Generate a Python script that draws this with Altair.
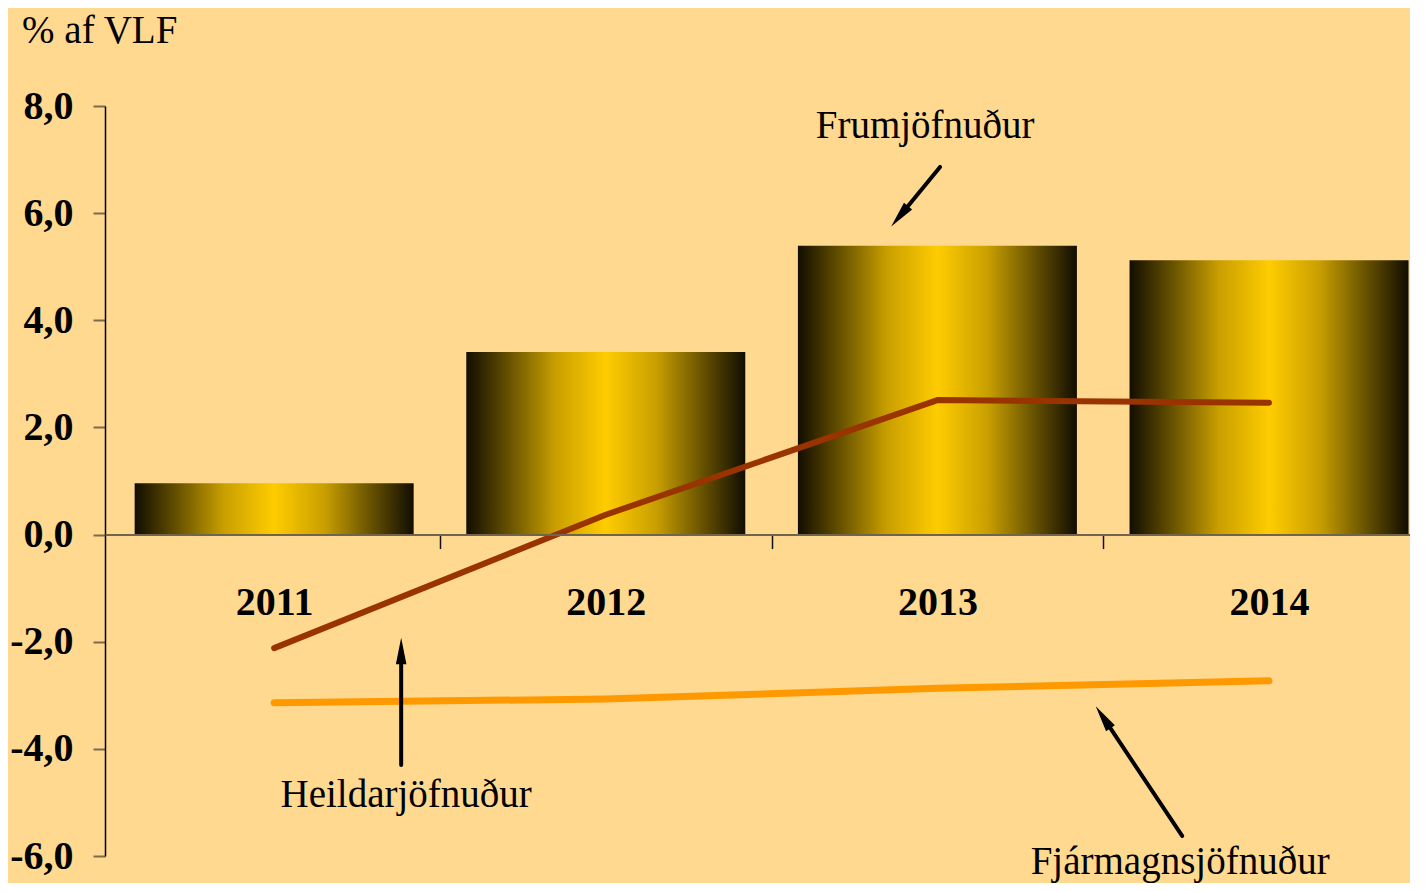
import math
import altair as alt
import pandas as pd

# ---- data ----
years = [2011, 2012, 2013, 2014]
frumjofnudur = [0.96, 3.41, 5.39, 5.12]          # bars
heildarjofnudur = [-2.12, 0.37, 2.51, 2.46]      # dark red line
fjarmagnsjofnudur = [-3.14, -3.07, -2.87, -2.73] # orange line

y_tick_values = [-6, -4, -2, 0, 2, 4, 6, 8]
x_axis_values = [2011, 2011.5, 2012, 2012.5, 2013, 2013.5, 2014]

unit_label = ["% af VLF"]
unit_x = [2010.24]
unit_y = [9.18]

ann_text = ["Frumjöfnuður", "Heildarjöfnuður", "Fjármagnsjöfnuður"]
ann_x = [2012.963, 2011.398, 2013.732]
ann_y = [7.40, -5.085, -6.336]
arrow_x1 = [2013.008, 2011.383, 2013.738]
arrow_y1 = [6.862, -4.30, -5.626]
arrow_x2 = [2012.867, 2011.383, 2013.483]
arrow_y2 = [5.798, -1.986, -3.256]

X_DOMAIN = [2010.505, 2014.41]
Y_DOMAIN = [-6, 8]
W, H = 1305, 750
FONT = "Liberation Serif"
BG = "#FFD990"
HEAD_LEN = 20
HEAD_SIZE = 700

px_x = W / (X_DOMAIN[1] - X_DOMAIN[0])
px_y = H / (Y_DOMAIN[1] - Y_DOMAIN[0])

bars_df = pd.DataFrame({"x": years, "y": frumjofnudur})
heild_df = pd.DataFrame({"x": years, "y": heildarjofnudur})
fjarm_df = pd.DataFrame({"x": years, "y": fjarmagnsjofnudur})

# arrow heads: centre set half a head-length behind the tip, rotated along the shaft
head_x, head_y, head_angle, shaft_x2, shaft_y2 = [], [], [], [], []
for x1, y1, x2, y2 in zip(arrow_x1, arrow_y1, arrow_x2, arrow_y2):
    dxp = (x2 - x1) * px_x
    dyp = -(y2 - y1) * px_y
    n = math.hypot(dxp, dyp)
    ux, uy = dxp / n, dyp / n
    back = HEAD_LEN / 2
    head_x.append(x2 - back * ux / px_x)
    head_y.append(y2 + back * uy / px_y)
    shaft_x2.append(x2 - (back + 2) * ux / px_x)
    shaft_y2.append(y2 + (back + 2) * uy / px_y)
    head_angle.append(math.degrees(math.atan2(ux, -uy)) % 360)

arrows_df = pd.DataFrame({
    "x": arrow_x1, "y": arrow_y1, "x2": shaft_x2, "y2": shaft_y2,
    "hx": head_x, "hy": head_y, "angle": head_angle,
})
ann_df = pd.DataFrame({"x": ann_x, "y": ann_y, "t": ann_text})
unit_df = pd.DataFrame({"x": unit_x, "y": unit_y, "t": unit_label})

xs = alt.Scale(domain=X_DOMAIN, nice=False, zero=False)
ys = alt.Scale(domain=Y_DOMAIN, nice=False, zero=False)

gradient = alt.Gradient(
    gradient="linear", x1=0, x2=1, y1=0, y2=0,
    stops=[
        alt.GradientStop(color="#120d00", offset=0),
        alt.GradientStop(color="#6b5500", offset=0.16),
        alt.GradientStop(color="#c99f00", offset=0.32),
        alt.GradientStop(color="#ffcc00", offset=0.5),
        alt.GradientStop(color="#c99f00", offset=0.68),
        alt.GradientStop(color="#6b5500", offset=0.84),
        alt.GradientStop(color="#120d00", offset=1),
    ],
)

x_axis = alt.Axis(
    values=x_axis_values,
    labelExpr="datum.value % 1 == 0 ? toString(datum.value) : ''",
    tickOpacity=alt.condition("datum.value % 1 == 0", alt.value(0), alt.value(1)),
    tickSize=14, tickColor="#111111", tickWidth=1.5,
    domainColor="#6e6450", domainWidth=2,
    labelFont=FONT, labelFontSize=40, labelFontWeight="bold", labelColor="black",
    labelBaseline="alphabetic", labelPadding=66,
    labelOverlap=False, labelBound=False, labelFlush=False,
    offset=-(H - 8 * px_y), title=None, grid=False, zindex=1,
)
y_axis = alt.Axis(
    values=y_tick_values,
    labelExpr="(datum.value < 0 ? '-' : '') + replace(format(abs(datum.value), '.1f'), '.', ',')",
    tickSize=12, tickColor="#7a6a4a", tickWidth=2,
    domainColor="black", domainWidth=1.5,
    labelFont=FONT, labelFontSize=40, labelFontWeight="bold", labelColor="black",
    labelPadding=20, labelOverlap=False, labelBound=False, labelFlush=False,
    title=None, grid=False,
)


def X(field):
    return alt.X(field, type="quantitative", scale=xs, axis=x_axis)


def Y(field):
    return alt.Y(field, type="quantitative", scale=ys, axis=y_axis)


bars = alt.Chart(bars_df).mark_bar(size=279, color=gradient).encode(
    x=X("x"), y=Y("y"),
)

line_heild = alt.Chart(heild_df).mark_line(
    color="#993300", strokeWidth=6, strokeCap="round", strokeJoin="round"
).encode(x=X("x"), y=Y("y"))

line_fjarm = alt.Chart(fjarm_df).mark_line(
    color="#FF9900", strokeWidth=7, strokeCap="round", strokeJoin="round"
).encode(x=X("x"), y=Y("y"))

shafts = alt.Chart(arrows_df).mark_rule(color="black", strokeWidth=4, strokeCap="round").encode(
    x=X("x"), y=Y("y"), x2="x2:Q", y2="y2:Q",
)

heads = alt.Chart(arrows_df).mark_point(
    shape="M0,-1L0.4,1L-0.4,1Z", filled=True, color="black",
    size=HEAD_SIZE, opacity=1, strokeWidth=0,
).encode(
    x=X("hx"), y=Y("hy"),
    angle=alt.Angle("angle:Q", scale=None),
)

ann = alt.Chart(ann_df).mark_text(
    font=FONT, fontSize=39, color="black", align="center", baseline="alphabetic"
).encode(x=X("x"), y=Y("y"), text="t:N")

unit = alt.Chart(unit_df).mark_text(
    font=FONT, fontSize=39, color="black", align="left", baseline="alphabetic"
).encode(x=X("x"), y=Y("y"), text="t:N")

chart = alt.layer(bars, line_heild, line_fjarm, shafts, heads, ann, unit).properties(
    width=W, height=H,
    autosize=alt.AutoSizeParams(type="none"),
    padding={"left": 97, "top": 98, "right": 0, "bottom": 27},
    background=BG,
).configure_view(stroke=None)

chart.save("out.html", embed_options={"renderer": "svg", "actions": False})
